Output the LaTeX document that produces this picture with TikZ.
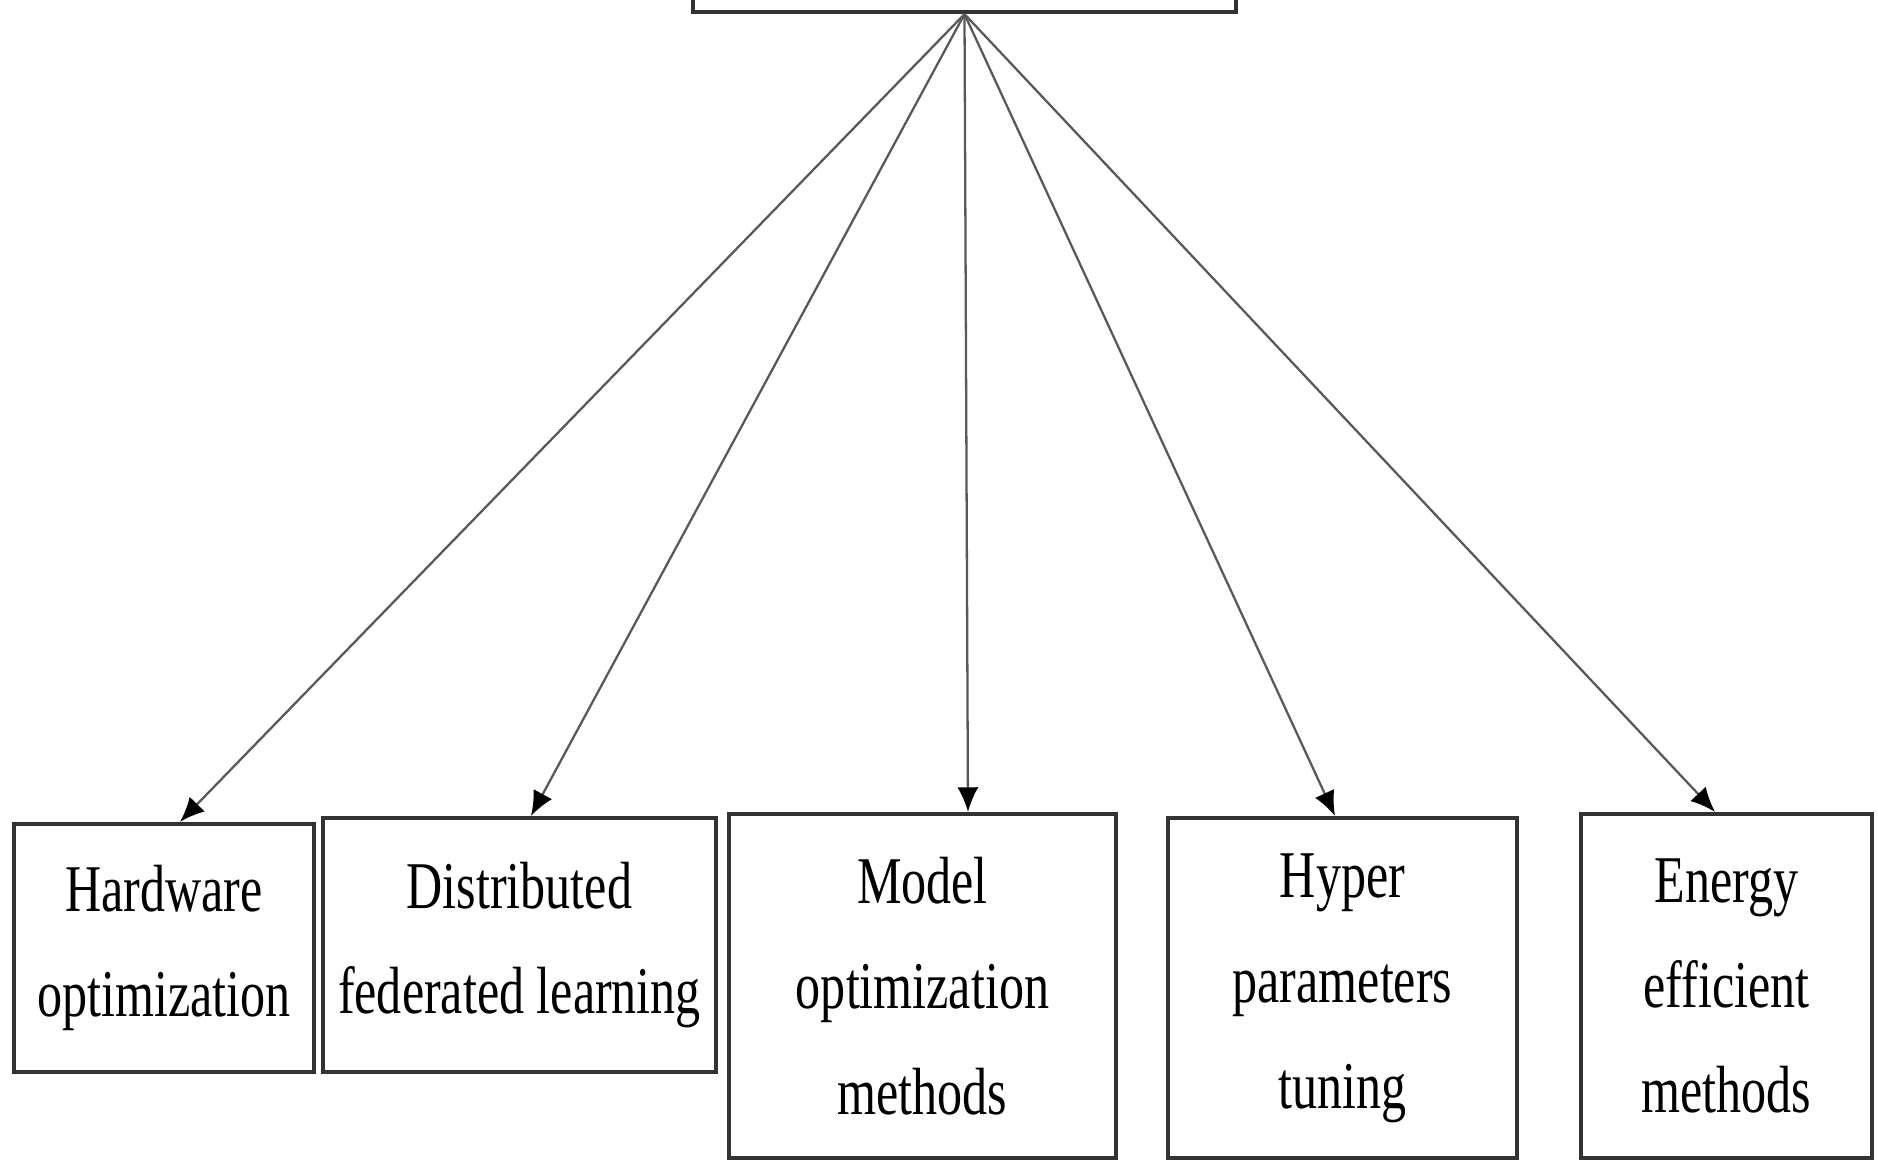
\documentclass[tikz,border=0pt]{standalone}
\usepackage{fontspec}
\setmainfont[FakeStretch=0.75]{Liberation Serif}
\usetikzlibrary{arrows.meta}

\begin{document}
\begin{tikzpicture}[>={Latex[length=7pt,width=6pt,color=black]},
	box/.style={draw=black!80,line width=1.2pt,align=center,inner sep=0pt,
		font=\fontsize{19}{30}\selectfont},
	link/.style={->,draw=black!65,line width=0.65pt}]
	
	\useasboundingbox (0,0) rectangle (18.78,11.6);
	\clip (0,0) rectangle (18.78,11.6);
	
	% top box, cut by the page edge
	\node [box,minimum width=5.43cm,minimum height=1cm] (root) at (9.645,11.98) {};
	
	\node [box,minimum width=3cm,minimum height=2.48cm] (hw) at (1.64,2.12) {Hardware\\optimization};
	\node [box,minimum width=3.93cm,minimum height=2.54cm] (dfl) at (5.195,2.15) {Distributed\\federated learning};
	\node [box,minimum width=3.87cm,minimum height=3.44cm] (mom) at (9.225,1.74) {Model\\optimization\\methods};
	\node [box,minimum width=3.49cm,minimum height=3.40cm] (hpt) at (13.425,1.72) {Hyper\\parameters\\tuning};
	\node [box,minimum width=2.91cm,minimum height=3.44cm] (eem) at (17.265,1.74) {Energy\\efficient\\methods};
	
	\foreach \n/\s in {hw/1.6mm,dfl/1.15mm,mom/4.55mm,hpt/-0.75mm,eem/-1.15mm} {
		\draw [link] (root.south) -- ([xshift=\s]\n.north);
	}
	
\end{tikzpicture}
\end{document}
